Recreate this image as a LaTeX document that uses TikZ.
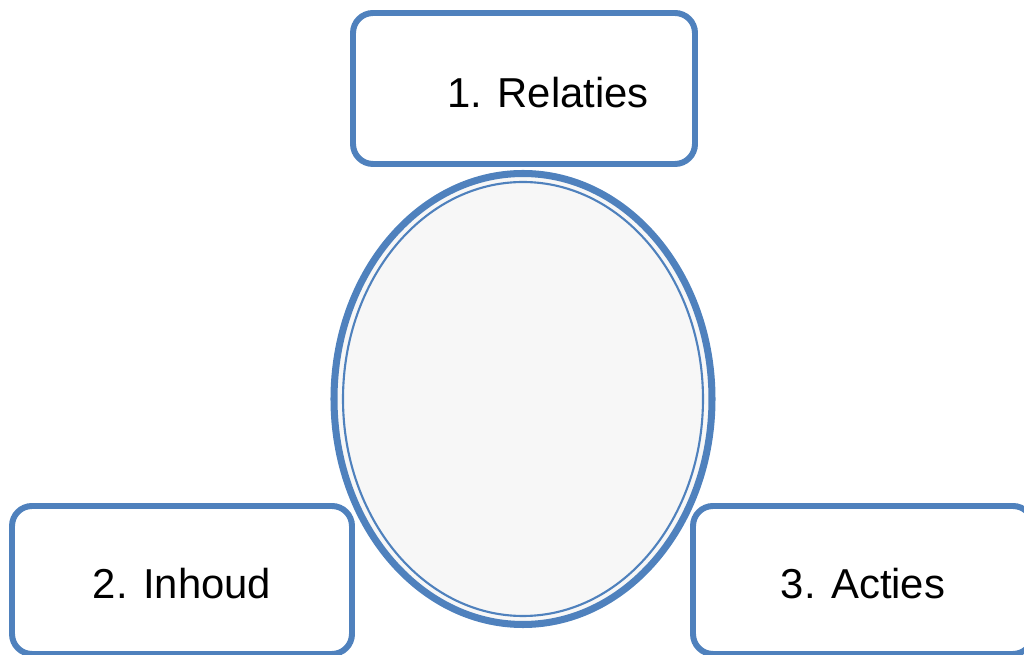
\documentclass[tikz,border=0pt]{standalone}
\usepackage{fontspec}
\setmainfont{Liberation Sans}
\definecolor{ringblue}{HTML}{4F81BD}
\definecolor{ringfill}{HTML}{F7F7F7}
\tikzset{
  topic/.style={draw=ringblue, line width=1.7pt, rounded corners=0.2cm,
    fill=white, inner sep=0pt, minimum width=3.40cm, minimum height=1.48cm},
  topictext/.style={yshift=-0.04cm, font=\fontsize{11.9}{14}\selectfont},
}
\begin{document}
\begin{tikzpicture}
      \useasboundingbox (0,0) rectangle (10.24,6.55);
      \draw
        (5.24,5.665) node[topic, minimum width=3.42cm, minimum height=1.51cm,
          label={[topictext, xshift=0.24cm]center:1. Relaties}] (relaties){}
        (1.82,0.75) node[topic, label={[topictext]center:2. Inhoud}] (inhoud){}
        (8.63,0.75) node[topic, label={[topictext]center:3. Acties}] (acties){};
      % the ring in the middle
      \begin{scope}[ringblue]
        \draw[line width=2pt, fill=ringfill] (5.23,2.56) ellipse [x radius=1.89cm, y radius=2.255cm];
        \draw[line width=0.6pt] (5.23,2.56) ellipse [x radius=1.80cm, y radius=2.17cm];
      \end{scope}
    \end{tikzpicture}
\end{document}
